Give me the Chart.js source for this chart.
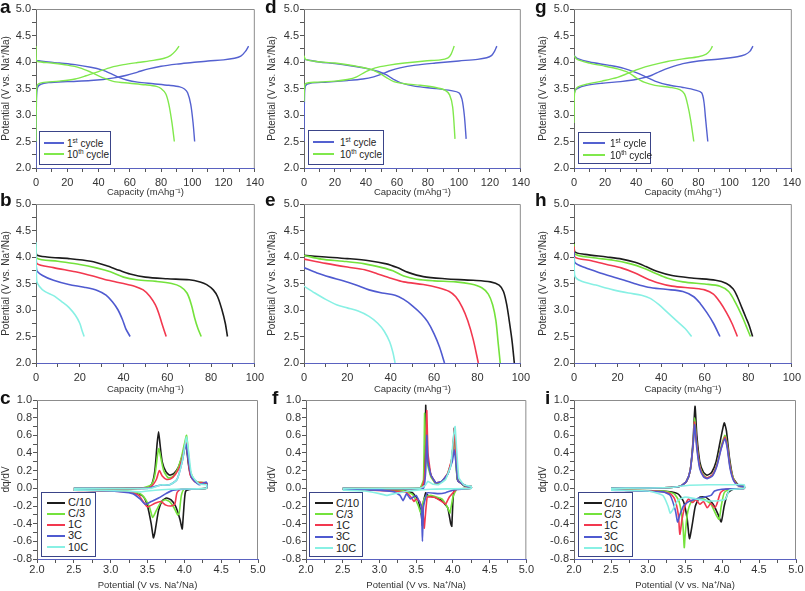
<!DOCTYPE html>
<html>
<head>
<meta charset="utf-8">
<script src="https://cdn.jsdelivr.net/npm/chart.js@4.4.1/dist/chart.umd.min.js"></script>
<style>
  body { margin: 0; background: #fff; width: 805px; height: 591px; position: relative; overflow: hidden;
         font-family: "Liberation Sans", Arial, sans-serif; }
  canvas { position: absolute; }
  .lbl { position: absolute; font-weight: bold; font-size: 19px; line-height: 18px; color: #111; }
  .leg { position: absolute; border: 1px solid #3a4488; background: #fff; box-sizing: border-box; }
  .leg .row { position: absolute; height: 11px; line-height: 11px; color: #222; white-space: nowrap; }
  .leg .ln { position: absolute; height: 2px; }
  .leg sup { font-size: 6.5px; vertical-align: 4px; line-height: 0; }
</style>
</head>
<body>
<script>
// ---- data: galvanostatic curves, capacity (mAh/g) vs potential (V) ----
var aCharge1  = [[0,2.0],[0.3,3.3],[1,3.52],[3,3.58],[8,3.61],[20,3.63],[35,3.65],[43,3.67],[50,3.7],[58,3.75],[65,3.81],[72,3.87],[80,3.92],[90,3.96],[100,3.99],[110,4.02],[120,4.04],[127,4.07],[131,4.11],[134,4.2],[136,4.3]];
var aDisch1   = [[0,4.03],[5,4.01],[15,3.98],[25,3.95],[35,3.9],[42,3.85],[48,3.78],[53,3.71],[58,3.66],[65,3.62],[75,3.59],[85,3.56],[92,3.53],[95,3.49],[97,3.42],[99,3.2],[100.5,2.85],[101.5,2.5]];
var aCharge10 = [[0,2.5],[0.3,3.4],[1,3.57],[4,3.61],[15,3.64],[25,3.68],[32,3.74],[40,3.82],[48,3.9],[56,3.95],[65,3.99],[75,4.03],[82,4.07],[86,4.12],[89,4.2],[91.5,4.3]];
var aDisch10  = [[0,4.3],[0.2,4.05],[1,4.01],[10,3.98],[20,3.94],[28,3.89],[35,3.81],[40,3.74],[45,3.68],[50,3.63],[60,3.6],[70,3.57],[77,3.54],[80,3.5],[83,3.4],[85,3.2],[87,2.85],[88.5,2.5]];

var dCharge1  = [[0,2.5],[0.3,3.3],[1,3.55],[4,3.6],[15,3.62],[28,3.65],[38,3.68],[45,3.72],[50,3.77],[55,3.83],[62,3.89],[72,3.94],[85,3.98],[100,4.02],[112,4.05],[118,4.08],[121,4.12],[123,4.2],[124.5,4.3]];
var dDisch1   = [[0,4.05],[10,4.0],[20,3.97],[30,3.93],[40,3.88],[48,3.82],[53,3.76],[58,3.67],[63,3.6],[72,3.54],[85,3.5],[95,3.46],[100,3.42],[102,3.3],[103.5,3.0],[104.7,2.55]];
var dCharge10 = [[0,3.25],[0.3,3.5],[1,3.59],[8,3.62],[20,3.64],[28,3.67],[34,3.72],[40,3.82],[46,3.89],[55,3.94],[65,3.98],[78,4.02],[88,4.04],[93,4.08],[95,4.15],[97,4.3]];
var dDisch10  = [[0,4.12],[1,4.05],[8,4.01],[20,3.98],[32,3.93],[42,3.87],[48,3.8],[53,3.71],[58,3.63],[65,3.59],[75,3.56],[85,3.52],[91,3.47],[94,3.38],[96,3.15],[97.5,2.55]];

var gCharge1  = [[0,3.35],[0.5,3.45],[2,3.5],[8,3.56],[18,3.6],[30,3.63],[38,3.66],[43,3.69],[50,3.75],[55,3.82],[62,3.9],[70,3.97],[80,4.02],[95,4.06],[105,4.1],[110,4.14],[113,4.2],[115,4.3]];
var gDisch1   = [[0,4.12],[2,4.07],[10,4.0],[22,3.94],[32,3.88],[40,3.8],[46,3.72],[52,3.64],[60,3.57],[70,3.52],[78,3.47],[82,3.42],[83.5,3.25],[84.5,2.95],[86,2.5]];
var gCharge10 = [[0,2.85],[0.3,3.4],[2,3.52],[8,3.58],[18,3.64],[28,3.71],[35,3.79],[42,3.87],[50,3.94],[60,4.01],[70,4.06],[80,4.1],[85,4.15],[87.5,4.22],[89,4.3]];
var gDisch10  = [[0,4.12],[2,4.05],[10,3.98],[20,3.92],[28,3.87],[35,3.8],[40,3.7],[45,3.62],[52,3.56],[62,3.52],[68,3.48],[71,3.4],[73,3.2],[75,2.9],[77,2.5]];

// ---- data: discharge curves at different rates ----
var bC10 = [[0,4.15],[0.3,4.04],[5,4.0],[15,3.97],[25,3.92],[32,3.84],[38,3.75],[43,3.68],[50,3.62],[60,3.59],[70,3.57],[75,3.53],[78,3.48],[81,3.38],[83,3.25],[85,3.0],[86.5,2.75],[87.5,2.5]];
var bC3  = [[0,4.2],[0.3,3.98],[10,3.92],[20,3.86],[28,3.79],[34,3.72],[40,3.62],[46,3.57],[55,3.54],[62,3.5],[66,3.44],[69,3.32],[71,3.1],[72.5,2.85],[74,2.65],[75.5,2.5]];
var b1C  = [[0,4.1],[0.3,3.88],[8,3.8],[18,3.72],[26,3.64],[33,3.56],[40,3.5],[45,3.45],[49,3.38],[52,3.26],[54.5,3.1],[56,2.95],[57.5,2.75],[59.5,2.5]];
var b3C  = [[0,4.0],[0.3,3.75],[3,3.65],[8,3.56],[15,3.48],[22,3.43],[28,3.37],[32,3.28],[35,3.15],[37.5,3.0],[39.5,2.82],[41,2.65],[43,2.5]];
var b10C = [[0,4.28],[0.3,3.55],[1.5,3.45],[4,3.35],[8,3.27],[12,3.15],[15,3.05],[18,2.9],[20,2.75],[21,2.62],[22,2.5]];

var eC10 = [[0,4.03],[10,4.0],[20,3.97],[30,3.93],[38,3.87],[43,3.8],[48,3.71],[55,3.63],[65,3.59],[78,3.56],[86,3.53],[90,3.47],[92,3.35],[93.5,3.1],[95,2.7],[96,2.4],[97,2.0]];
var eC3  = [[0,4.03],[8,3.96],[18,3.92],[28,3.87],[36,3.8],[41,3.74],[46,3.64],[52,3.58],[60,3.55],[70,3.53],[77,3.49],[82,3.42],[85,3.3],[87,3.1],[88.5,2.8],[89.5,2.4],[90.5,2.0]];
var e1C  = [[0,3.96],[10,3.88],[20,3.81],[28,3.76],[34,3.68],[40,3.6],[46,3.53],[55,3.48],[62,3.42],[67,3.35],[70,3.25],[73,3.05],[75.5,2.8],[78,2.45],[80.4,2.0]];
var e3C  = [[0,3.8],[6,3.7],[12,3.62],[18,3.55],[24,3.47],[30,3.38],[36,3.32],[42,3.28],[46,3.2],[50,3.08],[54,2.93],[57,2.78],[60,2.55],[62.5,2.3],[64.8,2.0]];
var e10C = [[0,3.45],[5,3.32],[10,3.2],[15,3.1],[20,3.04],[25,2.98],[30,2.88],[34,2.75],[37,2.6],[39.5,2.4],[41,2.2],[42,2.0]];

var hC10 = [[0,4.28],[0.3,4.1],[5,4.05],[15,4.0],[22,3.96],[28,3.9],[33,3.82],[38,3.73],[45,3.65],[55,3.6],[65,3.56],[70,3.5],[73,3.4],[75,3.25],[77,3.05],[79,2.85],[80.5,2.7],[82,2.5]];
var hC3  = [[0,4.25],[0.3,4.06],[8,3.99],[18,3.94],[26,3.87],[32,3.79],[37,3.7],[43,3.6],[50,3.53],[60,3.49],[67,3.45],[71,3.35],[74,3.15],[77,2.9],[79,2.7],[81,2.5]];
var h1C  = [[0,4.2],[0.3,4.0],[8,3.93],[15,3.86],[22,3.79],[28,3.7],[33,3.6],[38,3.52],[45,3.45],[55,3.41],[60,3.38],[64,3.3],[67,3.15],[70,2.95],[72.5,2.75],[75,2.5]];
var h3C  = [[0,4.1],[0.3,3.9],[5,3.8],[12,3.7],[20,3.6],[27,3.51],[34,3.43],[42,3.39],[50,3.35],[55,3.25],[58,3.12],[61,2.95],[64,2.75],[67,2.5]];
var h10C = [[0,4.0],[0.3,3.65],[3,3.55],[10,3.47],[18,3.38],[25,3.32],[31,3.28],[35,3.22],[39,3.1],[43,2.95],[47,2.8],[51,2.65],[54,2.5]];

// ---- data: dq/dV loops, potential (V) vs dq/dV; charge branch then discharge branch ----
var cC10 = [[2.5,0],[3.3,0],[3.5,0.01],[3.56,0.05],[3.6,0.2],[3.63,0.5],[3.65,0.64],[3.67,0.5],[3.7,0.3],[3.75,0.19],[3.8,0.15],[3.86,0.17],[3.92,0.24],[3.97,0.36],[4.01,0.48],[4.03,0.45],[4.06,0.25],[4.1,0.12],[4.2,0.06],[4.3,0.06],
            [4.3,0],[4.1,-0.01],[4.02,-0.03],[4.0,-0.15],[3.98,-0.38],[3.97,-0.46],[3.94,-0.35],[3.88,-0.2],[3.82,-0.13],[3.76,-0.11],[3.7,-0.14],[3.65,-0.25],[3.6,-0.5],[3.58,-0.56],[3.55,-0.4],[3.5,-0.2],[3.45,-0.1],[3.35,-0.05],[3.1,-0.03],[2.5,-0.02]];
var cC3  = [[2.5,0],[3.4,0],[3.55,0.04],[3.6,0.15],[3.64,0.4],[3.655,0.45],[3.68,0.35],[3.72,0.2],[3.78,0.12],[3.84,0.13],[3.9,0.2],[3.96,0.35],[4.0,0.5],[4.03,0.6],[4.05,0.45],[4.08,0.2],[4.15,0.08],[4.3,0.06],
            [4.3,0],[4.0,-0.01],[3.96,-0.08],[3.93,-0.28],[3.91,-0.3],[3.86,-0.22],[3.8,-0.15],[3.74,-0.13],[3.68,-0.16],[3.62,-0.25],[3.57,-0.33],[3.53,-0.22],[3.47,-0.12],[3.4,-0.06],[3.2,-0.03],[2.5,-0.02]];
var c1C  = [[2.5,0],[3.45,0],[3.55,0.02],[3.62,0.1],[3.66,0.2],[3.7,0.14],[3.76,0.1],[3.82,0.11],[3.88,0.16],[3.94,0.25],[3.99,0.4],[4.02,0.52],[4.05,0.35],[4.08,0.15],[4.15,0.07],[4.3,0.06],
            [4.3,0],[3.95,-0.01],[3.9,-0.05],[3.87,-0.18],[3.82,-0.2],[3.75,-0.19],[3.68,-0.15],[3.6,-0.17],[3.5,-0.21],[3.45,-0.16],[3.38,-0.08],[3.25,-0.04],[2.5,-0.02]];
var c3C  = [[2.5,0],[3.5,0],[3.6,0.02],[3.7,0.04],[3.8,0.04],[3.9,0.1],[3.97,0.3],[4.02,0.5],[4.05,0.35],[4.1,0.12],[4.2,0.04],[4.3,0.07],
            [4.3,0],[4.0,-0.01],[3.85,-0.02],[3.75,-0.06],[3.65,-0.11],[3.55,-0.15],[3.47,-0.18],[3.4,-0.12],[3.3,-0.06],[3.0,-0.03],[2.5,-0.02]];
var c10C = [[2.5,0],[3.55,0],[3.65,0.03],[3.7,0.04],[3.8,0.04],[3.9,0.1],[3.97,0.3],[4.01,0.5],[4.03,0.58],[4.06,0.4],[4.1,0.15],[4.2,0.05],[4.3,0.04],
            [4.3,0],[3.8,-0.01],[3.5,-0.03],[3.4,-0.04],[3.2,-0.03],[2.5,-0.02]];

var fC10 = [[2.5,0],[3.55,0],[3.6,0.05],[3.62,0.4],[3.63,0.94],[3.64,0.6],[3.66,0.3],[3.7,0.15],[3.76,0.06],[3.82,0.06],[3.88,0.1],[3.94,0.18],[3.98,0.3],[4.01,0.55],[4.02,0.68],[4.04,0.35],[4.06,0.1],[4.15,0.03],[4.25,0.02],
            [4.25,0],[4.02,-0.01],[4.0,-0.15],[3.985,-0.43],[3.97,-0.4],[3.93,-0.22],[3.85,-0.14],[3.75,-0.1],[3.66,-0.08],[3.63,-0.05],[3.6,-0.15],[3.585,-0.42],[3.57,-0.3],[3.52,-0.12],[3.45,-0.05],[3.3,-0.02],[2.5,-0.01]];
var fC3  = [[2.5,0],[3.55,0],[3.6,0.1],[3.615,0.85],[3.63,0.5],[3.66,0.25],[3.7,0.13],[3.77,0.05],[3.84,0.07],[3.92,0.15],[3.98,0.3],[4.01,0.55],[4.025,0.65],[4.04,0.3],[4.07,0.08],[4.2,0.02],[4.25,0.02],
            [4.25,0],[4.05,-0.01],[4.0,-0.1],[3.96,-0.28],[3.93,-0.22],[3.85,-0.12],[3.7,-0.08],[3.62,-0.1],[3.58,-0.2],[3.56,-0.28],[3.53,-0.2],[3.45,-0.07],[3.3,-0.02],[2.5,-0.01]];
var f1C  = [[2.5,0],[3.57,0],[3.61,0.1],[3.635,0.5],[3.645,0.88],[3.66,0.4],[3.7,0.15],[3.77,0.06],[3.85,0.08],[3.93,0.17],[3.99,0.35],[4.02,0.68],[4.04,0.4],[4.07,0.08],[4.2,0.02],[4.25,0.02],
            [4.25,0],[4.05,-0.01],[3.95,-0.1],[3.9,-0.18],[3.85,-0.15],[3.75,-0.1],[3.65,-0.1],[3.61,-0.45],[3.59,-0.25],[3.55,-0.15],[3.5,-0.12],[3.47,-0.15],[3.43,-0.1],[3.35,-0.04],[2.5,-0.01]];
var f3C  = [[2.5,0],[3.6,0],[3.63,0.2],[3.645,0.6],[3.66,0.3],[3.7,0.15],[3.77,0.06],[3.85,0.08],[3.93,0.16],[3.99,0.3],[4.02,0.44],[4.04,0.3],[4.07,0.08],[4.2,0.02],[4.25,0.02],
            [4.25,0],[4.0,-0.02],[3.9,-0.05],[3.8,-0.06],[3.65,-0.05],[3.6,-0.2],[3.585,-0.6],[3.57,-0.2],[3.5,-0.08],[3.42,-0.12],[3.37,-0.06],[3.32,-0.14],[3.28,-0.08],[3.2,-0.04],[3.0,-0.02],[2.5,-0.01]];
var f10C = [[2.5,0],[3.55,0],[3.62,0.03],[3.66,0.08],[3.72,0.05],[3.8,0.04],[3.9,0.1],[3.97,0.25],[4.01,0.6],[4.03,0.7],[4.05,0.45],[4.08,0.12],[4.15,0.04],[4.25,0.02],
            [4.25,0],[3.7,-0.01],[3.4,-0.03],[3.2,-0.06],[3.1,-0.08],[3.0,-0.06],[2.8,-0.03],[2.5,-0.02]];

var iC10 = [[2.5,0],[3.3,0.01],[3.45,0.03],[3.52,0.08],[3.57,0.2],[3.61,0.55],[3.635,0.93],[3.66,0.6],[3.7,0.3],[3.75,0.18],[3.8,0.15],[3.86,0.18],[3.92,0.3],[3.98,0.55],[4.03,0.74],[4.06,0.65],[4.1,0.35],[4.15,0.12],[4.22,0.04],[4.3,0.02],
            [4.3,0],[4.15,-0.01],[4.08,-0.05],[4.03,-0.2],[3.99,-0.38],[3.95,-0.3],[3.88,-0.18],[3.78,-0.1],[3.7,-0.1],[3.64,-0.2],[3.6,-0.4],[3.56,-0.57],[3.53,-0.35],[3.48,-0.15],[3.4,-0.06],[3.2,-0.03],[2.5,-0.02]];
var iC3  = [[2.5,0],[3.3,0.01],[3.45,0.03],[3.52,0.08],[3.57,0.2],[3.61,0.5],[3.63,0.8],[3.66,0.5],[3.7,0.25],[3.75,0.15],[3.8,0.12],[3.87,0.15],[3.93,0.27],[3.99,0.48],[4.04,0.6],[4.07,0.5],[4.11,0.25],[4.16,0.1],[4.22,0.03],[4.3,0.02],
            [4.3,0],[4.1,-0.01],[4.03,-0.05],[3.99,-0.2],[3.96,-0.35],[3.92,-0.3],[3.85,-0.18],[3.75,-0.12],[3.65,-0.12],[3.58,-0.16],[3.53,-0.3],[3.5,-0.55],[3.49,-0.67],[3.47,-0.4],[3.42,-0.15],[3.35,-0.06],[3.2,-0.03],[2.5,-0.02]];
var i1C  = [[2.5,0],[3.3,0.01],[3.45,0.03],[3.52,0.08],[3.57,0.2],[3.61,0.5],[3.63,0.75],[3.66,0.48],[3.7,0.24],[3.75,0.14],[3.8,0.12],[3.87,0.15],[3.93,0.26],[3.99,0.46],[4.04,0.58],[4.07,0.48],[4.11,0.24],[4.16,0.09],[4.22,0.03],[4.3,0.02],
            [4.3,0],[4.05,-0.01],[3.98,-0.05],[3.93,-0.18],[3.9,-0.22],[3.85,-0.17],[3.8,-0.22],[3.75,-0.15],[3.7,-0.18],[3.65,-0.13],[3.6,-0.16],[3.55,-0.12],[3.5,-0.2],[3.46,-0.35],[3.43,-0.52],[3.41,-0.3],[3.36,-0.12],[3.3,-0.06],[3.1,-0.03],[2.5,-0.02]];
var i3C  = [[2.5,0],[3.3,0.01],[3.45,0.03],[3.52,0.08],[3.57,0.2],[3.61,0.5],[3.63,0.72],[3.66,0.45],[3.7,0.22],[3.75,0.13],[3.8,0.11],[3.87,0.14],[3.93,0.25],[3.99,0.45],[4.04,0.56],[4.07,0.46],[4.11,0.22],[4.16,0.08],[4.22,0.03],[4.3,0.02],
            [4.3,0],[4.0,-0.01],[3.9,-0.03],[3.85,-0.08],[3.75,-0.1],[3.65,-0.12],[3.55,-0.15],[3.48,-0.2],[3.43,-0.3],[3.4,-0.38],[3.37,-0.25],[3.3,-0.08],[3.2,-0.04],[2.5,-0.02]];
var i10C = [[2.5,0],[3.3,0.01],[3.5,0.03],[3.8,0.04],[4.1,0.04],[4.3,0.04],
            [4.3,0],[4.1,-0.02],[4.05,-0.12],[3.95,-0.14],[3.8,-0.14],[3.65,-0.12],[3.5,-0.1],[3.4,-0.14],[3.33,-0.25],[3.3,-0.28],[3.27,-0.2],[3.2,-0.08],[3.0,-0.03],[2.5,-0.02]];

var cycleNames  = ['1<sup>st</sup> cycle', '10<sup>th</sup> cycle'];
var cycleColors = ['#5461d0', '#80e84c'];
var rateNames   = ['C/10', 'C/3', '1C', '3C', '10C'];
var rateColors  = ['#1c1c1c', '#74e23c', '#f2384f', '#4f5ad0', '#88f0e4'];

var capTitle = 'Capacity (mAhg\u207B\u00B9)';
var potTitle = 'Potential (V vs. Na\u207A/Na)';
var dqTitle  = 'dq/dV';

// ---- layout ----
var panels = [
  { id: 'a', kind: 'cyc',  data: [[aCharge1, aDisch1], [aCharge10, aDisch10]], box: [0, 0, 268, 197],   plot: [36, 9, 258, 168], xpad: 4,
    letter: [0, -2],   legend: { x: 39, y: 131, w: 72, h: 34, rows: [12, 23], l0: 4, l1: 24, tx: 27, fs: 10 } },
  { id: 'd', kind: 'cyc',  data: [[dCharge1, dDisch1], [dCharge10, dDisch10]], box: [266, 0, 268, 197], plot: [38, 9, 259, 168], xpad: 4,
    letter: [265, -2], legend: { x: 308, y: 130, w: 76, h: 35, rows: [12, 24], l0: 4, l1: 25, tx: 31, fs: 10 } },
  { id: 'g', kind: 'cyc',  data: [[gCharge1, gDisch1], [gCharge10, gDisch10]], box: [537, 0, 268, 197], plot: [37, 9, 259, 168], xpad: 4,
    letter: [535, -2], legend: { x: 578, y: 132, w: 73, h: 32, rows: [11, 23], l0: 4, l1: 26, tx: 31, fs: 10 } },
  { id: 'b', kind: 'rate', data: [bC10, bC3, b1C, b3C, b10C], box: [0, 194, 268, 200],   plot: [36, 10, 258, 169], xpad: 4, letter: [0, 191] },
  { id: 'e', kind: 'rate', data: [eC10, eC3, e1C, e3C, e10C], box: [266, 194, 268, 200], plot: [38, 10, 259, 169], xpad: 4, letter: [265, 191] },
  { id: 'h', kind: 'rate', data: [hC10, hC3, h1C, h3C, h10C], box: [537, 194, 268, 200], plot: [37, 10, 258, 169], xpad: 4, letter: [535, 191] },
  { id: 'c', kind: 'dq',   data: [cC10, cC3, c1C, c3C, c10C], box: [0, 390, 268, 200],   plot: [37, 10, 258, 169], xpad: 0, tension: 0.2,
    letter: [0, 389],  legend: { x: 41, y: 492, w: 55, h: 65, rows: [10.5, 21.5, 32.5, 43.5, 55], l0: 5, l1: 23, tx: 26, fs: 11 } },
  { id: 'f', kind: 'dq',   data: [fC10, fC3, f1C, f3C, f10C], box: [266, 390, 268, 200], plot: [40, 10, 261, 169], xpad: 0, tension: 0.08,
    letter: [272, 389], legend: { x: 309, y: 492, w: 54, h: 65, rows: [11, 22, 33, 44.5, 56], l0: 5, l1: 23, tx: 26, fs: 11 } },
  { id: 'i', kind: 'dq',   data: [iC10, iC3, i1C, i3C, i10C], box: [537, 390, 268, 200], plot: [37, 10, 259, 169], xpad: 0, tension: 0.2,
    letter: [545, 389], legend: { x: 578, y: 492, w: 55, h: 65, rows: [11, 22, 33, 44.5, 56], l0: 5, l1: 23, tx: 25, fs: 11 } }
];

function toXY(arr) { return arr.map(function (p) { return { x: p[0], y: p[1] }; }); }
function lbl(v, test, dec) {
  if (!test) return '';
  if (Math.abs(v) < 1e-9) v = 0;
  return v.toFixed(dec);
}

var framePlugin = {
  id: 'frame',
  afterDatasetsDraw: function (chart) {
    var c = chart.ctx, a = chart.chartArea;
    c.save();
    c.strokeStyle = '#8c8c8c';
    c.lineWidth = 1;
    c.beginPath();
    c.moveTo(a.left, a.top + 0.5);
    c.lineTo(a.right - 0.5, a.top + 0.5);
    c.lineTo(a.right - 0.5, a.bottom);
    c.stroke();
    c.restore();
  }
};

var tickFont = { family: '"Liberation Sans", Arial, sans-serif', size: 11 };

panels.forEach(function (p) {
  var cv = document.createElement('canvas');
  cv.width = p.box[2]; cv.height = p.box[3];
  cv.style.left = p.box[0] + 'px'; cv.style.top = p.box[1] + 'px';
  cv.style.width = p.box[2] + 'px'; cv.style.height = p.box[3] + 'px';
  document.body.appendChild(cv);

  var datasets = [];
  if (p.kind === 'cyc') {
    p.data.forEach(function (pair, i) {
      pair.forEach(function (arr) {
        datasets.push({ data: toXY(arr), borderColor: cycleColors[i], borderWidth: 1.4, tension: 0.3, order: 2 - i });
      });
    });
  } else {
    p.data.forEach(function (arr, i) {
      datasets.push({ data: toXY(arr), borderColor: rateColors[i], borderWidth: 1.6,
                      tension: p.tension !== undefined ? p.tension : 0.3, order: rateNames.length - i });
    });
  }
  datasets.forEach(function (d) { d.showLine = true; d.pointRadius = 0; d.fill = false; });

  var xs, ys;
  if (p.kind === 'dq') {
    xs = { min: 2, max: 5, step: 0.25, cb: function (v) { return lbl(v, Math.round(v * 4) % 2 === 0, 1); }, title: potTitle };
    ys = { min: -0.8, max: 1.0, step: 0.1, cb: function (v) { return lbl(v, Math.round(v * 10) % 2 === 0, 1); }, title: dqTitle };
  } else {
    var xmax = p.kind === 'cyc' ? 140 : 100;
    xs = { min: 0, max: xmax, step: 10, cb: function (v) { return Math.round(v / 10) % 2 === 0 ? String(Math.round(v)) : ''; }, title: capTitle };
    ys = { min: 2, max: 5, step: 0.25, cb: function (v) { return lbl(v, Math.round(v * 4) % 2 === 0, 1); }, title: potTitle };
  }
  var W = p.box[2], H = p.box[3];
  var plotL = p.plot[0], plotT = p.plot[1], plotR = p.plot[2], plotB = p.plot[3];

  new Chart(cv, {
    type: 'scatter',
    data: { datasets: datasets },
    plugins: [framePlugin],
    options: {
      responsive: false,
      animation: false,
      events: [],
      layout: { padding: { top: plotT, right: W - plotR, left: 0, bottom: 0 } },
      plugins: { legend: { display: false }, tooltip: { enabled: false } },
      scales: {
        x: {
          type: 'linear', min: xs.min, max: xs.max,
          afterFit: function (s) { s.height = H - plotB; },
          ticks: { stepSize: xs.step, callback: xs.cb, autoSkip: false, maxRotation: 0, maxTicksLimit: 100,
                   font: tickFont, color: '#333', padding: p.xpad },
          grid: { drawOnChartArea: false, drawTicks: true, tickLength: 4, tickColor: '#555' },
          border: { display: true, color: '#5a62c0', width: 1 },
          title: { display: true, text: xs.title, color: '#333', padding: { top: 0, bottom: 0 },
                   font: { family: '"Liberation Sans", Arial, sans-serif', size: 9.5, lineHeight: 1 } }
        },
        y: {
          type: 'linear', min: ys.min, max: ys.max,
          afterFit: function (s) { s.width = plotL; },
          ticks: { stepSize: ys.step, callback: ys.cb, autoSkip: false, maxTicksLimit: 100,
                   font: tickFont, color: '#333', padding: 1 },
          grid: { drawOnChartArea: false, drawTicks: true, tickLength: 4, tickColor: '#555' },
          border: { display: true, color: '#666', width: 1 },
          title: { display: true, text: ys.title, color: '#333', padding: { top: 0, bottom: 0 },
                   font: { family: '"Liberation Sans", Arial, sans-serif', size: 10, lineHeight: 1.2 } }
        }
      }
    }
  });

  var L = document.createElement('div');
  L.className = 'lbl';
  L.textContent = p.id;
  L.style.left = p.letter[0] + 'px'; L.style.top = p.letter[1] + 'px';
  document.body.appendChild(L);

  if (p.legend) {
    var g = p.legend;
    var names = p.kind === 'cyc' ? cycleNames : rateNames;
    var colors = p.kind === 'cyc' ? cycleColors : rateColors;
    var box = document.createElement('div');
    box.className = 'leg';
    box.style.left = g.x + 'px'; box.style.top = g.y + 'px';
    box.style.width = g.w + 'px'; box.style.height = g.h + 'px';
    names.forEach(function (n, i) {
      var ln = document.createElement('div');
      ln.className = 'ln';
      ln.style.left = g.l0 + 'px'; ln.style.width = (g.l1 - g.l0) + 'px';
      ln.style.top = (g.rows[i] - 2) + 'px';
      ln.style.background = colors[i];
      box.appendChild(ln);
      var r = document.createElement('div');
      r.className = 'row';
      r.style.left = g.tx + 'px'; r.style.top = (g.rows[i] - 6.5) + 'px';
      r.style.fontSize = g.fs + 'px';
      r.innerHTML = n;
      box.appendChild(r);
    });
    document.body.appendChild(box);
  }
});
</script>
</body>
</html>
